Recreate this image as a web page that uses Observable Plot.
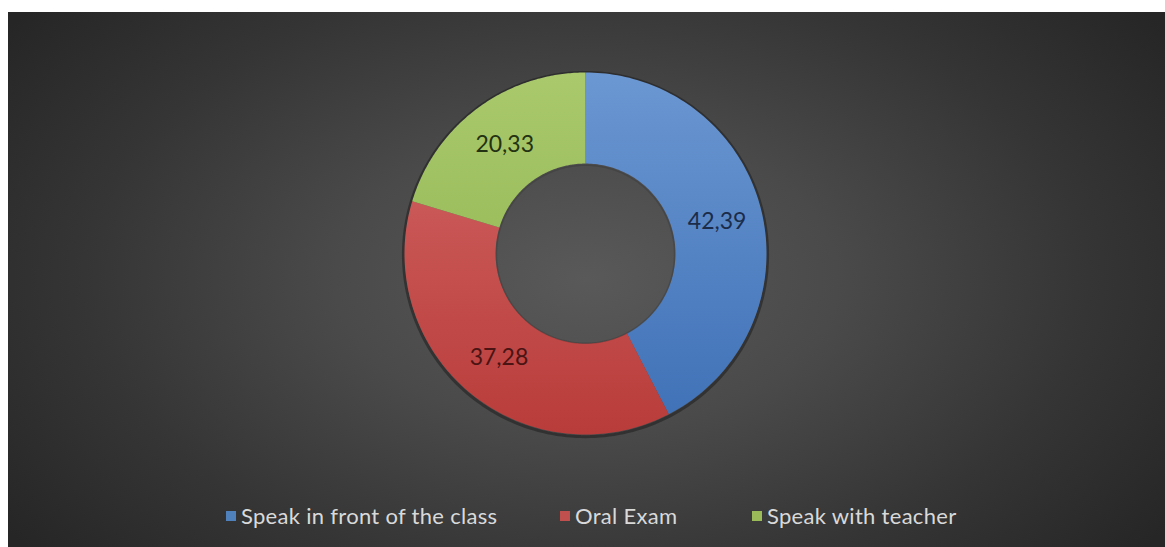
<!DOCTYPE html>
<html>
<head>
<meta charset="utf-8">
<script src="https://cdn.jsdelivr.net/npm/d3@7"></script>
<script src="https://cdn.jsdelivr.net/npm/@observablehq/plot@0.6"></script>
<style>
  html, body { margin: 0; padding: 0; background: #ffffff; }
  #frame {
    position: absolute; left: 8px; top: 12px; width: 1157px; height: 535px;
    background: radial-gradient(ellipse 62% 80% at 50% 50%, #595959 0%, #4a4a4a 35%, #353535 70%, #262626 100%);
    overflow: hidden;
  }
  #legend {
    position: absolute; left: 0; top: 490px; width: 1157px; height: 30px;
    font-family: Lato, "Open Sans", sans-serif; font-size: 22px; letter-spacing: 0.3px; color: #d9d9d9;
  }
  .item { position: absolute; top: 0; display: flex; align-items: center; white-space: nowrap; line-height: 28px; }
  .sw { width: 10px; height: 10px; margin-right: 5px; }
</style>
</head>
<body>
<div id="frame"><div id="chart"></div><div id="legend"></div></div>
<script>
const categories = ["Speak in front of the class", "Oral Exam", "Speak with teacher"];
const values = [42.39, 37.28, 20.33];
const labels = ["42,39", "37,28", "20,33"];
const colors = ["#4f81bd", "#c0504d", "#9bbb59"];
const gradTop = ["#6b97d2", "#d46866", "#a9c96c"];
const gradBottom = ["#3e70b6", "#b83c3a", "#8db049"];
const labelColors = ["#1b2c4a", "#4a1414", "#233212"];
const legendX = [218, 552, 744];

const inner = 0.497, outer = 1.0;
const pie = d3.pie().sort(null).value(d => d.value);
const data = categories.map((c, i) => ({name: c, value: values[i], label: labels[i], i}));
const arcs = pie(data);

// ring polygon outlines built from pie angles
const polys = [];
arcs.forEach(a => {
  const n = 120;
  const pts = [];
  for (let k = 0; k <= n; k++) {
    const t = a.startAngle + (a.endAngle - a.startAngle) * k / n;
    pts.push({name: a.data.name, i: a.data.i, x: outer * Math.sin(t), y: outer * Math.cos(t)});
  }
  for (let k = n; k >= 0; k--) {
    const t = a.startAngle + (a.endAngle - a.startAngle) * k / n;
    pts.push({name: a.data.name, i: a.data.i, x: inner * Math.sin(t), y: inner * Math.cos(t)});
  }
  polys.push(...pts);
});
const labelPts = arcs.map(a => {
  const m = (a.startAngle + a.endAngle) / 2;
  const r = (inner + outer) / 2;
  return {label: a.data.label, i: a.data.i, x: r * Math.sin(m), y: r * Math.cos(m)};
});
// shadow outlines (outer edge and inner hole edge)
const shadowOuter = [], shadowInner = [];
for (let k = 0; k <= 240; k++) {
  const t = 2*Math.PI*k/240;
  shadowOuter.push({x: 1.006*Math.sin(t), y: 1.006*Math.cos(t) - 0.006});
  shadowInner.push({x: 0.492*Math.sin(t), y: 0.492*Math.cos(t) - 0.004});
}

const cx = 577, cy = 241, R = 181;
const chart = Plot.plot({
  width: 1157, height: 480,
  margin: 0,
  style: {background: "transparent", overflow: "visible"},
  x: {domain: [-1, 1], range: [cx - R, cx + R], axis: null},
  y: {domain: [-1, 1], range: [cy + R, cy - R], axis: null},
  marks: [
    Plot.line(shadowOuter, {x: "x", y: "y", stroke: "#222222", strokeOpacity: 0.6, strokeWidth: 3, curve: "linear-closed"}),
    Plot.line(polys, {x: "x", y: "y", z: "name", fill: d => `url(#grad${d.i})`, stroke: "none", curve: "linear-closed"}),
    Plot.line(shadowInner, {x: "x", y: "y", stroke: "#333333", strokeOpacity: 0.35, strokeWidth: 1.5, curve: "linear-closed"}),
    Plot.text(labelPts, {x: "x", y: "y", text: "label", fill: d => labelColors[d.i], fontSize: 23, fontFamily: "Lato, 'Open Sans', sans-serif"})
  ]
});
// gradient defs
const ns = "http://www.w3.org/2000/svg";
const defs = document.createElementNS(ns, "defs");
colors.forEach((c, i) => {
  const g = document.createElementNS(ns, "linearGradient");
  g.setAttribute("id", "grad" + i);
  g.setAttribute("gradientUnits", "userSpaceOnUse");
  g.setAttribute("x1", 0); g.setAttribute("y1", cy - R);
  g.setAttribute("x2", 0); g.setAttribute("y2", cy + R);
  [[0, gradTop[i]], [1, gradBottom[i]]].forEach(([o, col]) => {
    const s = document.createElementNS(ns, "stop");
    s.setAttribute("offset", o); s.setAttribute("stop-color", col);
    g.appendChild(s);
  });
  defs.appendChild(g);
});
chart.insertBefore(defs, chart.firstChild);
document.getElementById("chart").appendChild(chart);

const legend = document.getElementById("legend");
categories.forEach((c, i) => {
  const it = document.createElement("div");
  it.className = "item";
  it.style.left = legendX[i] + "px";
  const sw = document.createElement("div");
  sw.className = "sw"; sw.style.background = colors[i];
  const tx = document.createElement("span");
  tx.textContent = c;
  it.appendChild(sw); it.appendChild(tx);
  legend.appendChild(it);
});
</script>
</body>
</html>
